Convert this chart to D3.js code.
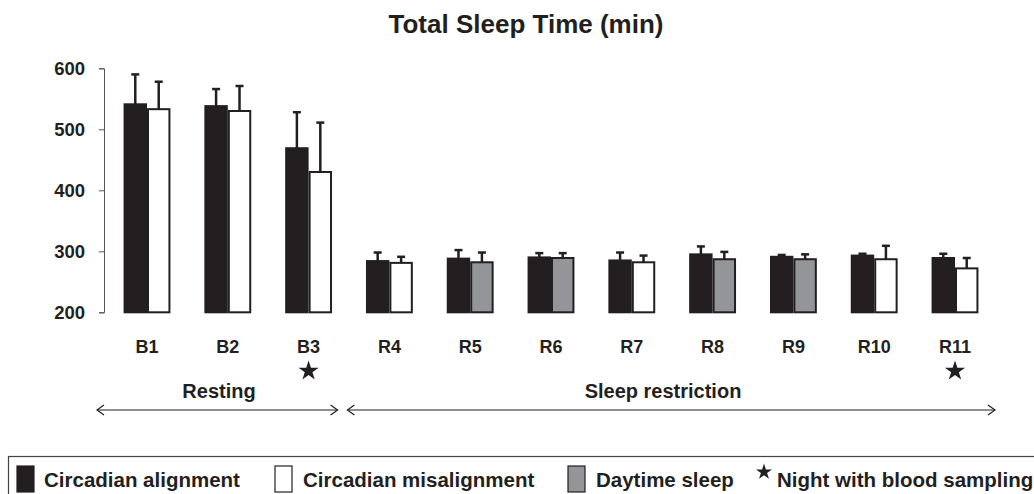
<!DOCTYPE html>
<html lang="en">
<head>
    <meta charset="UTF-8">
    <title>Total Sleep Time</title>
    <style>
        *{ box-sizing: border-box; }
        body{ margin: 0; background: #fff; }
        #main{ width: 1034px; height: 494px; }
        text{ font-family: "Liberation Sans", Arial, sans-serif; font-weight: bold; fill: #231f20; }
    </style>
</head>
<body>
<div id="main"></div>
<script src="https://d3js.org/d3.v7.min.js"></script>
<script>
    /* ===== data ===== */
    const categories = ['B1','B2','B3','R4','R5','R6','R7','R8','R9','R10','R11']
    // circadian alignment (black)
    const alignMean = [541, 538, 469, 284, 288, 290, 285, 295, 291, 293, 289]
    const alignErr  = [49, 28, 59, 14, 14, 7, 13, 13, 3, 3, 7]
    // second bar: misalignment (white) or daytime sleep (gray)
    const secondMean = [533, 530, 430, 281, 282, 289, 282, 287, 287, 287, 272]
    const secondErr  = [45, 41, 81, 10, 16, 8, 11, 12, 8, 22, 17]
    const secondType = ['mis','mis','mis','mis','day','day','mis','day','day','mis','mis']
    const bloodNights = ['B3','R11']
    const yTicks = [200, 300, 400, 500, 600]
    const phases = ['Resting', 'Sleep restriction']

    const width = 1034, height = 494
    const colors = {align: '#231f20', mis: '#ffffff', day: '#939598'}

    const svg = d3.select('#main').append('svg')
        .attr('width', width).attr('height', height)
        .attr('viewBox', `0 0 ${width} ${height}`)

    /* ===== scales ===== */
    const x = d3.scaleBand()
        .domain(categories)
        .range([106.6, 995.4])
        .paddingInner(0.42)
        .paddingOuter(0.21)
    const inner = d3.scaleBand().domain(['a','b']).range([0, x.bandwidth()])
    const y = d3.scaleLinear().domain([200, 600]).range([312.3, 68.3])
    const cx = c => x(c) + x.bandwidth() / 2

    /* title */
    svg.append('text')
        .attr('x', 526).attr('y', 33)
        .attr('text-anchor', 'middle')
        .style('font-size', '26px')
        .text('Total Sleep Time (min)')

    /* y axis */
    const yAxis = svg.append('g')
        .attr('transform', 'translate(104,0)')
        .call(d3.axisLeft(y).tickValues(yTicks).tickSize(5).tickPadding(14))
    yAxis.selectAll('path, line').attr('stroke', '#555').attr('stroke-width', 1)
    yAxis.selectAll('text')
        .style('font-size', '18.5px')
        .style('font-family', '"Liberation Sans", Arial, sans-serif')
        .style('font-weight', 'bold')
        .attr('fill', '#231f20')

    /* bars */
    const rows = categories.map((c, i) => ({
        cat: c,
        bars: [
            {key: 'a', v: alignMean[i], e: alignErr[i], fill: colors.align},
            {key: 'b', v: secondMean[i], e: secondErr[i], fill: colors[secondType[i]]}
        ]
    }))

    const groups = svg.append('g').selectAll('g')
        .data(rows).join('g')
        .attr('transform', d => `translate(${x(d.cat)},0)`)

    // error bars (drawn first so the bar covers the stem base)
    groups.selectAll('g.err')
        .data(d => d.bars).join('g').attr('class', 'err')
        .each(function(d){
            const g = d3.select(this)
            const bx = inner(d.key) + inner.bandwidth() / 2
            g.append('line')
                .attr('x1', bx).attr('x2', bx)
                .attr('y1', y(d.v)).attr('y2', y(d.v + d.e))
                .attr('stroke', '#231f20').attr('stroke-width', 2.5)
            g.append('line')
                .attr('x1', bx - 4).attr('x2', bx + 4)
                .attr('y1', y(d.v + d.e)).attr('y2', y(d.v + d.e))
                .attr('stroke', '#231f20').attr('stroke-width', 2.5)
        })

    groups.selectAll('rect')
        .data(d => d.bars).join('rect')
        .attr('x', d => inner(d.key) + 1)
        .attr('width', inner.bandwidth() - 2)
        .attr('y', d => y(d.v))
        .attr('height', d => y(200) - y(d.v))
        .attr('fill', d => d.fill)
        .attr('stroke', '#231f20')
        .attr('stroke-width', 2)

    /* category labels */
    svg.append('g').selectAll('text')
        .data(categories).join('text')
        .attr('x', cx)
        .attr('y', 353)
        .attr('text-anchor', 'middle')
        .style('font-size', '18px')
        .text(d => d)

    /* stars for blood sampling nights */
    svg.append('g').selectAll('path')
        .data(bloodNights).join('path')
        .attr('d', d3.symbol(d3.symbolStar, 125))
        .attr('transform', d => `translate(${cx(d)},371)`)
        .attr('fill', '#231f20')

    /* phase labels and arrows */
    const arrowX = [
        [cx('B1') - 50, cx('B3') + 29],
        [cx('R4') - 42, cx('R11') + 40]
    ]
    const labelX = [219, 663]
    phases.forEach((p, i) => {
        const [x1, x2] = arrowX[i]
        svg.append('text')
            .attr('x', labelX[i]).attr('y', 398)
            .attr('text-anchor', 'middle')
            .style('font-size', '20px')
            .text(p)
        const g = svg.append('g').attr('stroke', '#231f20').attr('stroke-width', 1.2).attr('fill', 'none')
        g.append('line').attr('x1', x1).attr('x2', x2).attr('y1', 410).attr('y2', 410)
        g.append('path').attr('d', `M${x1 + 7},405 L${x1},410 L${x1 + 7},415`)
        g.append('path').attr('d', `M${x2 - 7},405 L${x2},410 L${x2 - 7},415`)
    })

    /* legend */
    svg.append('rect')
        .attr('x', 8.5).attr('y', 456.5)
        .attr('width', 1040).attr('height', 50)
        .attr('fill', 'none').attr('stroke', '#444').attr('stroke-width', 1.2)

    const legend = [
        {type: 'box', fill: colors.align, x: 17, label: 'Circadian alignment', tx: 44},
        {type: 'box', fill: colors.mis, x: 275, label: 'Circadian misalignment', tx: 303},
        {type: 'box', fill: colors.day, x: 568, label: 'Daytime sleep', tx: 596},
        {type: 'star', x: 757, label: 'Night with blood sampling', tx: 777}
    ]
    legend.forEach(l => {
        if (l.type === 'box') {
            svg.append('rect')
                .attr('x', l.x).attr('y', 466)
                .attr('width', 17).attr('height', 26)
                .attr('fill', l.fill).attr('stroke', '#231f20').attr('stroke-width', 1.2)
        } else {
            svg.append('path')
                .attr('d', d3.symbol(d3.symbolStar, 80))
                .attr('transform', `translate(${l.x + 7},472)`)
                .attr('fill', '#231f20')
        }
        svg.append('text')
            .attr('x', l.tx).attr('y', 487)
            .style('font-size', '20.5px')
            .text(l.label)
    })
</script>
</body>
</html>
